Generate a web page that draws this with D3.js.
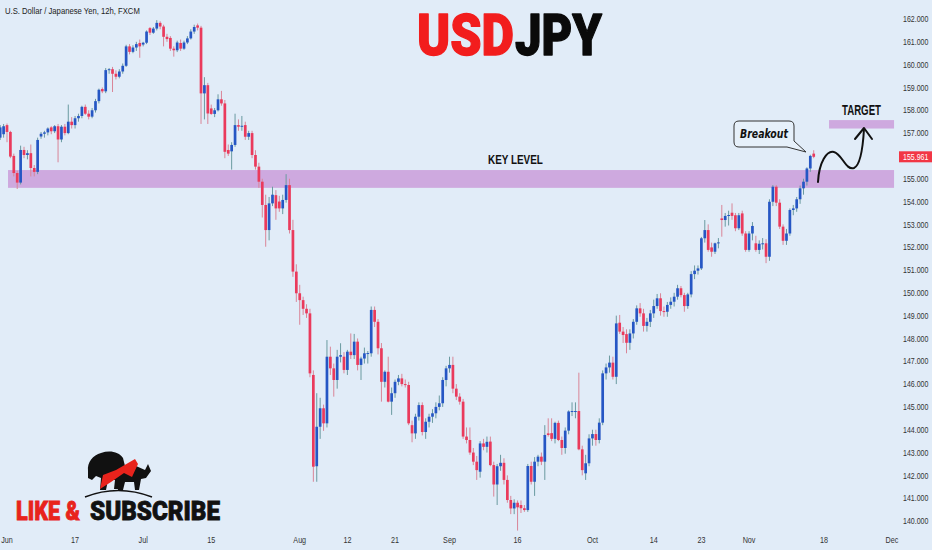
<!DOCTYPE html>
<html>
<head>
<meta charset="utf-8">
<script src="https://cdn.jsdelivr.net/npm/d3@7"></script>
<style>
  html, body { margin: 0; padding: 0; background: #e1ecf8; }
  svg { display: block; }
</style>
</head>
<body>
<div id="chart"></div>
<script>
// ---------------- DATA ----------------
const symbolTitle = "U.S. Dollar / Japanese Yen, 12h, FXCM";
const firstBar = -2; // bar index of the first candle (bar 0 = Jun 3, first 12h)
const opens = [156.80,156.95,157.35,157.05,156.00,155.25,154.83,156.26,156.04,156.12,155.47,155.30,156.85,156.97,157.03,157.25,157.08,157.30,156.72,157.28,157.00,157.50,157.35,157.65,157.75,158.15,157.85,157.72,158.00,158.40,158.93,158.83,159.76,159.80,159.60,159.47,159.70,159.95,160.80,160.56,160.75,160.95,160.88,160.96,161.60,161.40,161.58,161.83,161.67,161.22,161.17,160.70,160.63,160.95,160.70,160.97,161.15,161.45,161.72,161.62,158.74,159.10,158.08,157.84,158.00,158.48,158.30,156.26,156.20,156.48,157.35,157.28,157.35,156.84,157.00,156.04,155.53,154.87,153.85,152.75,153.92,154.28,154.00,153.70,154.07,154.72,152.75,150.93,149.98,149.68,149.30,149.10,146.40,142.40,144.13,144.94,144.28,147.20,146.69,146.18,147.20,147.20,146.62,147.42,147.27,147.86,146.84,147.12,147.32,147.35,149.25,148.73,147.57,146.10,146.54,145.23,145.60,146.10,146.25,146.00,145.96,144.20,143.84,144.57,145.08,143.90,144.35,144.57,144.72,145.00,145.16,146.18,146.69,146.84,145.80,145.45,145.23,143.70,143.55,143.00,142.60,142.16,143.40,143.25,143.48,142.45,141.60,142.40,142.55,141.80,140.92,140.55,140.80,140.70,140.56,140.48,142.41,141.72,142.60,142.82,142.60,143.84,143.85,143.60,144.30,143.55,143.20,143.96,144.80,144.78,144.82,143.14,142.09,142.53,143.62,143.81,143.55,144.31,146.47,146.73,146.94,146.32,148.69,148.30,148.19,147.81,148.22,148.73,149.32,149.10,148.55,148.73,149.10,149.42,149.76,149.20,149.17,149.47,149.61,149.83,150.20,149.90,149.42,149.93,150.82,150.97,151.07,152.39,152.75,151.99,151.80,152.17,153.26,153.19,153.37,153.51,153.40,152.83,153.48,152.60,151.88,152.60,152.17,151.88,152.15,152.17,151.58,153.99,154.65,153.95,152.90,152.28,152.60,153.63,153.70,154.10,154.58,154.87,155.45,156.10];
const highs = [157.35,157.40,157.42,157.10,156.10,155.35,156.45,156.40,156.25,156.50,155.60,156.80,157.05,157.10,157.25,157.30,157.35,157.40,157.35,157.40,158.25,157.70,157.75,157.85,158.20,158.25,158.00,158.10,158.50,158.95,159.00,159.85,159.85,159.90,159.75,159.80,160.05,160.87,160.90,160.85,161.00,161.10,161.00,161.50,161.65,161.65,161.95,161.90,161.75,161.35,161.25,160.80,161.05,161.10,161.05,161.25,161.55,161.75,161.80,161.70,159.45,159.20,158.25,158.10,158.70,158.85,158.45,156.50,156.60,157.85,157.60,157.75,157.50,157.10,157.10,156.25,155.70,155.00,154.30,154.20,154.65,154.50,154.25,154.30,155.20,155.00,153.20,151.25,150.35,149.83,149.50,149.30,146.60,145.60,145.40,145.10,147.93,147.64,146.90,147.50,147.79,147.40,147.50,148.22,148.20,148.00,147.20,147.60,147.45,149.40,149.40,148.85,147.80,146.60,147.20,145.85,146.20,146.40,146.45,146.20,146.10,144.40,144.70,145.20,145.20,144.50,144.70,144.90,145.20,145.50,146.30,146.80,147.20,147.20,146.00,145.60,145.35,144.10,144.10,143.20,142.85,143.50,143.60,143.70,143.70,142.60,142.50,142.90,142.75,142.00,141.10,140.95,140.90,140.90,140.70,142.50,142.60,142.80,142.90,143.00,144.20,144.50,144.50,144.35,144.40,143.70,144.10,144.85,145.20,145.20,146.50,143.30,142.90,143.80,144.00,144.00,144.50,146.60,146.90,147.25,147.20,149.00,149.03,148.50,148.40,148.40,148.85,149.45,149.55,149.30,148.90,149.25,149.70,149.95,149.98,149.40,149.60,149.80,150.00,150.35,150.30,150.00,150.00,150.95,151.20,151.20,152.45,153.19,153.00,152.20,152.20,152.40,153.85,153.50,153.60,153.92,153.50,153.50,153.60,152.70,152.70,153.10,152.50,152.30,152.40,152.35,154.10,154.72,154.72,154.10,153.00,152.80,153.70,153.85,154.20,154.70,155.00,155.50,156.05,156.25];
const lows = [156.70,156.80,156.60,155.90,155.10,154.55,154.75,155.90,155.85,155.10,155.10,155.20,156.75,156.80,156.90,156.95,157.00,155.72,156.60,156.90,156.95,157.20,157.20,157.50,157.65,157.80,157.60,157.65,157.90,158.30,158.75,158.75,159.60,158.80,159.35,159.40,159.60,159.90,160.45,160.50,160.60,160.30,160.80,160.90,161.30,161.35,161.50,161.55,160.80,161.00,160.60,160.35,160.55,160.60,160.65,160.90,161.10,161.35,161.50,157.40,157.60,157.40,157.80,157.70,157.95,158.20,155.90,156.00,155.40,156.40,157.10,157.10,156.70,156.70,155.90,155.40,154.60,153.30,152.02,152.30,153.80,153.20,153.55,153.45,153.95,152.60,150.70,149.60,148.60,149.03,148.90,146.30,141.72,141.72,143.60,143.95,144.10,146.40,145.45,145.80,146.95,146.47,146.40,147.10,147.10,146.60,146.18,146.90,146.90,147.20,148.50,147.30,145.23,145.85,145.20,144.65,145.40,145.95,145.90,145.85,144.20,143.45,143.60,144.40,143.75,143.60,144.10,144.30,144.50,144.85,145.00,145.90,146.50,145.60,145.30,145.10,143.60,143.40,142.90,142.45,141.80,141.90,143.10,143.00,142.40,141.07,140.70,142.20,141.60,140.80,140.30,140.30,139.58,140.35,140.40,140.40,141.60,141.10,142.40,142.45,141.80,143.70,143.50,143.40,143.50,142.90,142.95,143.80,144.60,144.50,143.10,142.00,141.80,142.40,143.30,143.30,143.40,144.20,146.20,146.50,146.20,146.00,148.20,147.80,147.35,147.50,148.00,148.60,148.95,148.30,148.30,148.50,148.90,149.30,149.00,148.95,148.95,149.30,149.40,149.70,149.80,149.17,149.30,149.80,150.60,150.80,151.00,152.20,151.80,151.58,151.70,151.95,152.46,152.90,152.95,153.20,152.70,152.75,152.50,151.80,151.80,152.30,151.80,151.70,151.90,151.30,151.40,153.80,153.80,152.80,152.10,152.10,152.50,153.40,153.55,153.90,154.30,154.70,155.30,155.90];
const closes = [157.25,157.30,157.05,155.97,155.25,154.83,156.26,156.04,156.12,155.47,155.30,156.70,156.97,157.03,157.20,157.08,157.30,156.72,157.28,157.00,157.50,157.35,157.65,157.75,158.15,157.85,157.72,158.00,158.40,158.90,158.83,159.76,159.80,159.60,159.47,159.70,159.95,160.80,160.56,160.75,160.90,160.80,160.96,161.45,161.40,161.58,161.83,161.67,161.22,161.12,160.70,160.63,160.97,160.70,160.97,161.15,161.45,161.65,161.62,158.74,159.10,157.86,157.84,158.00,158.48,158.30,156.18,156.10,156.48,157.35,157.28,157.32,156.84,157.00,156.04,155.53,154.87,153.85,152.75,153.92,154.30,153.70,153.70,154.07,154.72,152.75,150.93,149.98,149.68,149.30,149.10,146.47,142.38,144.13,144.94,144.28,147.20,146.69,146.18,147.20,147.27,146.62,147.42,147.27,147.86,146.84,147.12,147.35,147.36,149.25,148.73,147.57,146.10,146.54,145.23,145.60,146.10,146.25,146.00,145.96,144.28,143.84,144.57,145.08,143.90,144.35,144.57,144.72,145.00,145.16,146.18,146.69,146.84,145.80,145.45,145.23,143.70,143.55,143.00,142.60,142.23,143.40,143.25,143.47,142.45,141.60,142.40,142.55,141.80,140.92,140.55,140.80,140.60,140.56,140.48,142.41,141.72,142.60,142.82,142.60,143.77,143.77,143.60,144.30,143.55,143.20,143.96,144.80,144.82,144.82,143.14,142.23,142.53,143.62,143.81,143.55,144.31,146.47,146.73,146.94,146.32,148.66,148.30,148.15,147.81,148.22,148.73,149.32,149.10,148.55,148.73,149.10,149.42,149.76,149.20,149.17,149.47,149.61,149.83,150.20,149.90,149.42,149.93,150.82,150.97,151.07,152.39,152.75,151.88,151.80,152.17,152.21,153.19,153.37,153.41,153.37,152.83,153.40,152.60,151.88,152.60,152.93,151.88,152.15,152.17,151.58,153.99,154.65,153.95,152.90,152.28,152.60,153.63,153.70,154.10,154.58,154.87,155.45,156.00,155.961];
const lastPrice = 155.961;
const priceTicks = d3.range(140, 163, 1);
const dateTickLabels = ["Jun","17","Jul","15","Aug","12","21","Sep","16","Oct","14","23","Nov","18","Dec"];
const dateTickBars   = [0, 20, 40, 60, 86, 100, 114, 130, 150, 172, 190, 204, 218, 240, 260];
const keyLevel = [154.6, 155.38];     // price band
const keyLevelBars = [0.3, 260.6];
const targetLevel = [157.2, 157.57];
const targetBars = [241.5, 260.6];

// ---------------- DRAW ----------------
const W = 932, H = 550;
const x = d3.scaleLinear().domain([0, 260]).range([7, 892]);
const y = d3.scaleLinear().domain([140, 162]).range([521, 19]);
const UP = "#2556c4", DOWN = "#ea3a5c", UPW = "#6a9aa0", DOWNW = "#d98598";
const sans = "'Liberation Sans',Arial,sans-serif";

const svg = d3.select("#chart").append("svg").attr("width", W).attr("height", H);
svg.append("rect").attr("width", W).attr("height", H).attr("fill", "#e1ecf8");

// place a text at (tx, ty) and squeeze it horizontally to the given width
function fitText(sel, tx, ty, width) {
  const w = sel.node().getComputedTextLength();
  sel.attr("transform", `translate(${tx},${ty}) scale(${width / w},1)`);
  return sel;
}

const candles = opens.map((o, i) => ({ b: firstBar + i, o, h: highs[i], l: lows[i], c: closes[i] }));

// bands
svg.append("rect")
  .attr("x", x(keyLevelBars[0])).attr("width", x(keyLevelBars[1]) - x(keyLevelBars[0]))
  .attr("y", y(keyLevel[1])).attr("height", y(keyLevel[0]) - y(keyLevel[1]))
  .attr("fill", "#cea9df");
svg.append("rect")
  .attr("x", x(targetBars[0])).attr("width", x(targetBars[1]) - x(targetBars[0]))
  .attr("y", y(targetLevel[1])).attr("height", y(targetLevel[0]) - y(targetLevel[1]))
  .attr("fill", "#cea9df");

// candles
const g = svg.append("g");
g.selectAll("line.wick").data(candles).join("line")
  .attr("x1", d => x(d.b)).attr("x2", d => x(d.b))
  .attr("y1", d => y(d.h)).attr("y2", d => y(d.l))
  .attr("stroke", d => d.c >= d.o ? UPW : DOWNW).attr("stroke-width", 1);
g.selectAll("rect.body").data(candles).join("rect")
  .attr("x", d => x(d.b) - 1.35).attr("width", 2.7)
  .attr("y", d => y(Math.max(d.o, d.c)))
  .attr("height", d => Math.max(1, Math.abs(y(d.o) - y(d.c))))
  .attr("fill", d => d.c >= d.o ? UP : DOWN);

// price axis labels
const axisG = svg.append("g");
priceTicks.forEach(v => {
  axisG.append("text")
    .attr("transform", `translate(903,${y(v) + 3.2}) scale(0.78,1)`)
    .attr("font-family", sans).attr("font-size", 9).attr("fill", "#333")
    .text(v.toFixed(3));
});

// last price label
svg.append("rect").attr("x", 899).attr("y", y(lastPrice) - 5.5).attr("width", 33).attr("height", 11).attr("fill", "#f23645");
svg.append("text").attr("transform", `translate(903,${y(lastPrice) + 3.2}) scale(0.78,1)`)
  .attr("font-family", sans).attr("font-size", 9).attr("fill", "#fff")
  .text(lastPrice.toFixed(3));

// date axis labels
svg.append("g").selectAll("text").data(dateTickLabels).join("text")
  .attr("transform", (d, i) => `translate(${x(dateTickBars[i])},543) scale(0.8,1)`)
  .attr("text-anchor", "middle")
  .attr("font-family", sans).attr("font-size", 9).attr("fill", "#333")
  .text(d => d);

// symbol title
svg.append("text").attr("transform", "translate(5,14) scale(0.8,1)")
  .attr("font-family", sans).attr("font-size", 9.6).attr("fill", "#222")
  .text(symbolTitle);

// big title
const big = "'Roboto','Liberation Sans',Arial,sans-serif";
fitText(svg.append("text")
  .attr("font-family", big).attr("font-weight", 900).attr("font-size", 58)
  .attr("fill", "#f21d1d").attr("stroke", "#f21d1d").attr("stroke-width", 1.4).attr("stroke-linejoin", "round")
  .text("USD"), 417, 55, 97);
fitText(svg.append("text")
  .attr("font-family", big).attr("font-weight", 900).attr("font-size", 58)
  .attr("fill", "#0a0a0a").attr("stroke", "#0a0a0a").attr("stroke-width", 1.4).attr("stroke-linejoin", "round")
  .text("JPY"), 515, 55, 87);

// KEY LEVEL
fitText(svg.append("text")
  .attr("font-family", sans).attr("font-size", 12.5).attr("font-weight", "bold").attr("fill", "#111")
  .text("KEY LEVEL"), 488, 164, 55);

// TARGET
fitText(svg.append("text")
  .attr("font-family", sans).attr("font-size", 14).attr("font-weight", "bold").attr("fill", "#111")
  .text("TARGET"), 842, 115, 39);

// Breakout callout
svg.append("path")
  .attr("d", "M739,121 H789 Q794,121 794,126 V141 L806,152 L787,147 H739 Q734,147 734,142 V126 Q734,121 739,121 Z")
  .attr("fill", "#e6f0fa").attr("stroke", "#333").attr("stroke-width", 1);
fitText(svg.append("text")
  .attr("font-family", "'DejaVu Sans','Liberation Sans',sans-serif").attr("font-style", "italic").attr("font-weight", "bold")
  .attr("font-size", 12).attr("fill", "#111")
  .text("Breakout"), 740, 138, 48);

// projection arrow
svg.append("path")
  .attr("d", "M818,182 C819,162 827,150 834,152 C842,154 846,171 854,168 C861,165 863,146 864,129")
  .attr("fill", "none").attr("stroke", "#111").attr("stroke-width", 2).attr("stroke-linecap", "round");
svg.append("path")
  .attr("d", "M855,139 L864,128 L872,139")
  .attr("fill", "none").attr("stroke", "#111").attr("stroke-width", 2).attr("stroke-linecap", "round").attr("stroke-linejoin", "round");

// logo (bear & bull)
const logo = svg.append("g");
logo.append("path").attr("fill", "#111")
  .attr("d", "M88,471 C87,462 93,455 101,453 C110,450 119,452 123,458 L126,470 L122,482 L119,489 L114,489 L115,480 L108,480 L106,490 L100,490 L101,478 L96,476 L92,480 L88,478 Z");
logo.append("path").attr("fill", "#111")
  .attr("d", "M116,472 L136,466 L145,470 L148,464 L151,471 L146,478 L141,479 L139,490 L135,490 L134,482 L125,482 L123,490 L118,490 Z");
logo.append("path").attr("fill", "#e8231c")
  .attr("d", "M100,489 L103,475 L116,470 L135,459 L138,464 L132,477 L124,473 L111,482 Z");
logo.append("path").attr("fill", "none").attr("stroke", "#111").attr("stroke-width", 1.5)
  .attr("d", "M85,497 Q118,484 152,497");
const logoFont = "'Roboto','Lato','Liberation Sans',sans-serif";
fitText(svg.append("text")
  .attr("font-family", logoFont).attr("font-weight", 900).attr("font-size", 26).attr("fill", "#e8231c")
  .attr("stroke", "#e8231c").attr("stroke-width", 0.8)
  .text("LIKE &"), 16, 520, 64);
fitText(svg.append("text")
  .attr("font-family", logoFont).attr("font-weight", 900).attr("font-size", 26).attr("fill", "#111")
  .attr("stroke", "#111").attr("stroke-width", 0.8)
  .text("SUBSCRIBE"), 90, 520, 130);
</script>
</body>
</html>
